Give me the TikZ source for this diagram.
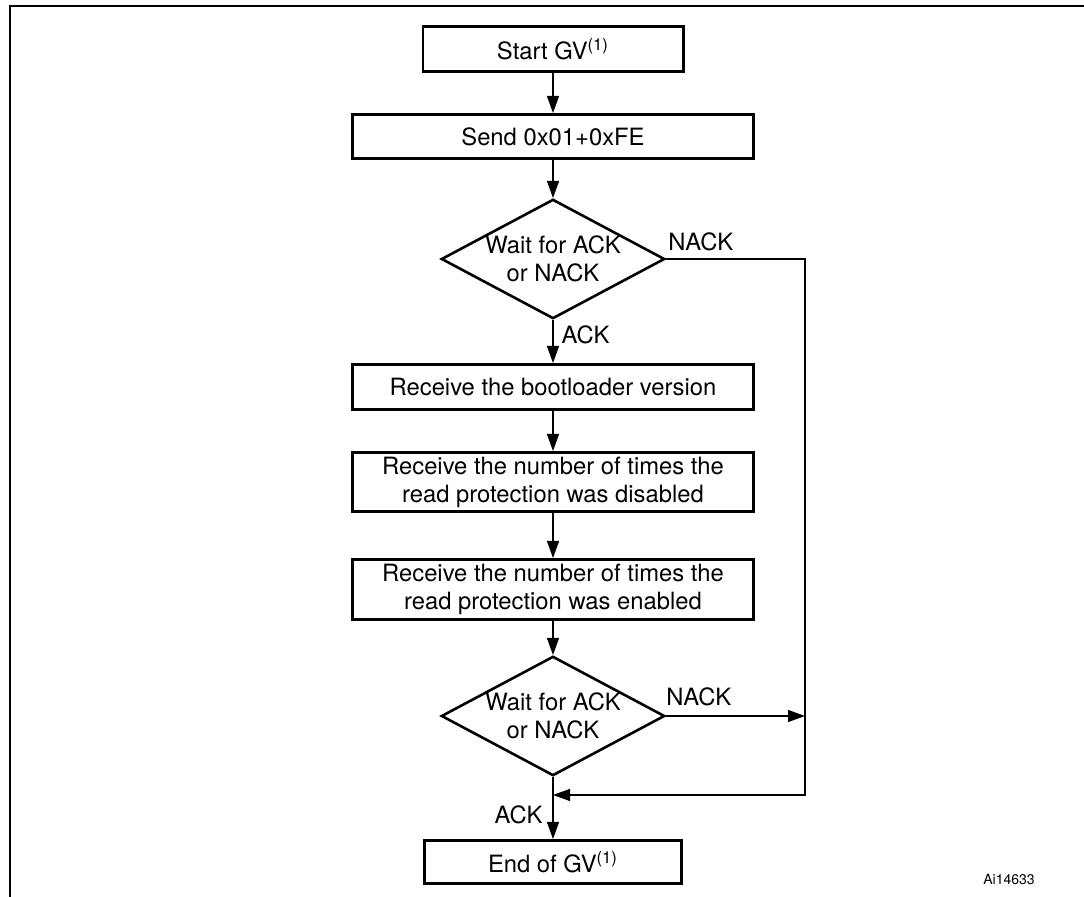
\documentclass[tikz,border=0pt]{standalone}
\usepackage{fontspec}
\setmainfont{TeX Gyre Heros}
\usetikzlibrary{arrows.meta,positioning,calc,shapes.geometric}
\newcommand{\flowfont}{\fontsize{11.9}{14}\selectfont}
\tikzset{
  box/.style={draw, line width=1.3pt, align=center, minimum height=22.7pt, inner xsep=2pt, inner ysep=1pt,
              font=\flowfont},
  widebox/.style={box, minimum width=200.7pt},
  narrowbox/.style={box, minimum width=130.2pt},
  decision/.style={diamond, draw, line width=1.3pt, align=center, aspect=1.85, minimum width=111.7pt,
                   minimum height=59.7pt, inner sep=-1pt, font=\flowfont},
  arrow/.style={-{Triangle[length=8.5pt,width=6pt]}, line width=0.6pt},
  tag/.style={font=\flowfont, inner sep=0pt}
}

\begin{document}
\begin{tikzpicture}[node distance=20pt]
\useasboundingbox (0,0) rectangle (542pt,-448.5pt);
\draw[line width=1pt] (5pt,-448.5pt) -- (5pt,-3pt) -- (542pt,-3pt);
\node[narrowbox] (start) at (276.5pt,-24.5pt) {Start GV\textsuperscript{(1)}};
\node[widebox, below=20pt of start, minimum height=22.2pt] (send) {Send 0x01+0xFE};
\node[decision, below=19pt of send] (wait1) {Wait for ACK\\or NACK};
\node[widebox, below=21.5pt of wait1] (ver) {Receive the bootloader version};
\node[widebox, below=20pt of ver, minimum height=29.7pt] (dis) {Receive the number of times the\\read protection was disabled};
\node[widebox, below=22.5pt of dis, minimum height=30.2pt] (en) {Receive the number of times the\\read protection was enabled};
\node[decision, below=17pt of en] (wait2) {Wait for ACK\\or NACK};
\node[narrowbox, below=31pt of wait2, minimum width=128.7pt, minimum height=21.7pt] (fin) {End of GV\textsuperscript{(1)}};
\node[font=\fontsize{7}{8}\selectfont, anchor=base west, inner sep=0pt] (code) at (491.5pt,-442.5pt) {Ai14633};
\coordinate (rail) at (402.5pt,0);
\coordinate (join) at ($(wait2.south)+(0,-9pt)$);
\draw[arrow] (start) -- (send);
\draw[arrow] (send) -- (wait1);
\draw[arrow] (wait1) -- node[tag, right=4pt, pos=0.35] {ACK} (ver);
\draw[arrow] (ver) -- (dis);
\draw[arrow] (dis) -- (en);
\draw[arrow] (en) -- (wait2);
\draw[arrow] (wait2) -- node[tag, left=5pt, pos=0.61] {ACK} (fin);
\draw[arrow] (wait1.east) -- (wait1.east -| rail) |- (join);
\draw[arrow] (wait2.east) -- (wait2.east -| rail);
\node[tag, anchor=south west] (nack1) at ($(wait1.east)+(1pt,4pt)$) {NACK};
\node[tag, anchor=south west] (nack2) at ($(wait2.east)+(0pt,5pt)$) {NACK};
\end{tikzpicture}
\end{document}
